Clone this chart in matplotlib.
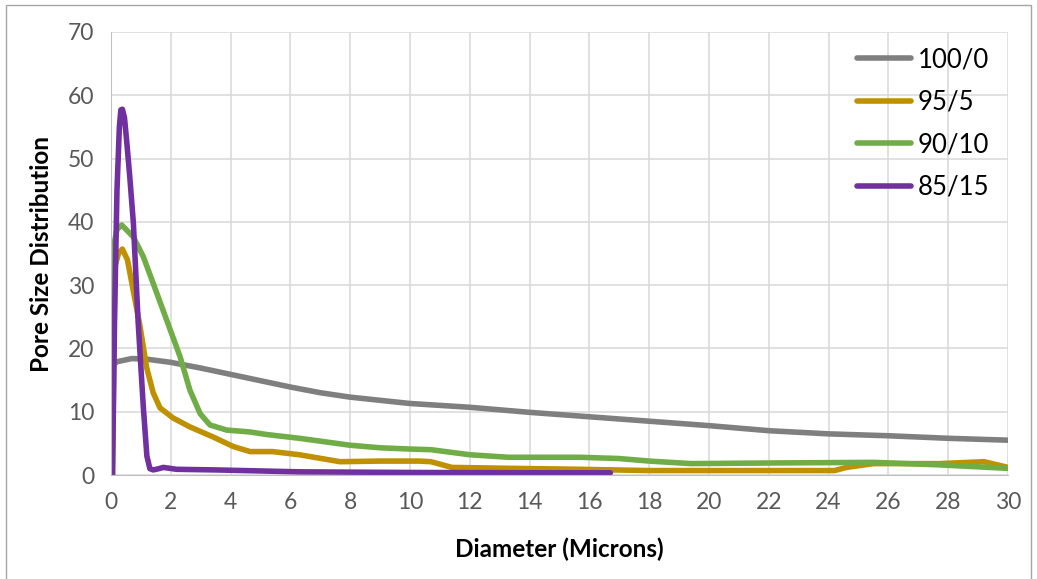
import matplotlib
matplotlib.use("Agg")
import matplotlib.pyplot as plt
from matplotlib.patches import Rectangle

# --- data ---
x_100_0 = [0.05, 0.2, 0.7, 1.2, 2, 3, 4, 5, 6, 7, 8, 9, 10, 12, 14, 16, 18, 20, 22, 24, 26, 28, 30]
y_100_0 = [17.3, 17.9, 18.4, 18.3, 17.8, 16.9, 15.9, 14.9, 13.9, 13.0, 12.3, 11.8, 11.3,
           10.7, 9.9, 9.2, 8.5, 7.8, 7.0, 6.5, 6.2, 5.8, 5.5]

x_95_5 = [0.05, 0.13, 0.25, 0.38, 0.55, 0.75, 0.97, 1.19, 1.41, 1.64, 2.08, 2.64, 3.42, 4.09,
          4.65, 5.4, 6.3, 7.66, 9.0, 10.3, 10.7, 11.4, 13.4, 15.7, 18.0, 24.2, 24.6, 25.5,
          27.7, 29.2, 30]
y_95_5 = [0, 32.9, 35.0, 35.7, 34.0, 29.0, 23.5, 17.0, 13.0, 10.6, 9.0, 7.6, 6.0, 4.5,
          3.7, 3.7, 3.2, 2.1, 2.2, 2.2, 2.1, 1.2, 1.05, 0.9, 0.7, 0.7, 1.2, 1.8,
          1.8, 2.1, 1.2]

x_90_10 = [0.02, 0.08, 0.2, 0.36, 0.75, 1.08, 1.41, 1.86, 2.31, 2.64, 2.98, 3.31, 3.87, 4.65,
           5.2, 6.3, 8.0, 9.0, 10.0, 10.7, 12.0, 13.3, 15.7, 17.0, 18.0, 19.4, 22.1, 25.5,
           27.7, 30]
y_90_10 = [0, 36.0, 38.8, 39.5, 37.6, 34.5, 30.3, 24.5, 18.7, 13.4, 9.7, 7.9, 7.1, 6.8,
           6.4, 5.8, 4.7, 4.3, 4.1, 4.0, 3.2, 2.8, 2.8, 2.6, 2.2, 1.8, 1.9, 2.0,
           1.6, 1.05]

x_85_15 = [0.05, 0.12, 0.2, 0.28, 0.33, 0.38, 0.45, 0.52, 0.63, 0.75, 0.91, 1.08, 1.2, 1.3,
           1.41, 1.6, 1.75, 2.19, 3.53, 6.3, 10, 14, 16.7]
y_85_15 = [0, 25, 45, 55, 57.7, 57.8, 56.5, 53, 47, 39.7, 24, 10.8, 3.0, 1.0,
           0.8, 1.0, 1.2, 0.9, 0.8, 0.5, 0.4, 0.35, 0.35]

labels = ['100/0', '95/5', '90/10', '85/15']
colors = ['#7f7f7f', '#bf9000', '#70ad47', '#7030a0']
x_ticks = list(range(0, 31, 2))
y_ticks = list(range(0, 71, 10))

plt.rcParams['font.family'] = ['Lato', 'DejaVu Sans']

fig = plt.figure(figsize=(10.37, 5.79), dpi=100)
ax = fig.add_axes([111 / 1037, 1 - 475 / 579, (1008 - 111) / 1037, (475 - 32) / 579])

series = [(x_100_0, y_100_0), (x_95_5, y_95_5), (x_90_10, y_90_10), (x_85_15, y_85_15)]
for (xs, ys), lab, col in zip(series, labels, colors):
    ax.plot(xs, ys, color=col, lw=4.0, label=lab,
            solid_joinstyle='round', solid_capstyle='round')

ax.set_xlim(0, 30)
ax.set_ylim(0, 70)
ax.set_xticks(x_ticks)
ax.set_yticks(y_ticks)
ax.grid(True, color='#d9d9d9', lw=1.1)
ax.set_axisbelow(True)
ax.tick_params(length=0, labelsize=16.5, labelcolor='#595959', pad=12)
for side in ['top', 'right']:
    ax.spines[side].set_visible(False)
ax.spines['left'].set_color('#bfbfbf')
ax.spines['bottom'].set_color('#bfbfbf')

ax.set_xlabel('Diameter (Microns)', fontsize=17.5, fontweight='bold', labelpad=18)
ax.set_ylabel('Pore Size Distribution', fontsize=17.5, fontweight='bold', labelpad=11)

leg = ax.legend(loc='upper left', bbox_to_anchor=(834 / 1037, 1 - 24 / 579),
                bbox_transform=fig.transFigure, frameon=False, fontsize=18.5,
                handlelength=2.1, handletextpad=0.25, labelspacing=0.68)

# outer chart border
fig.patches.append(Rectangle((6 / 1037, -0.01), (1031 - 6) / 1037, 1.01 - 5 / 579,
                             transform=fig.transFigure, fill=False,
                             edgecolor='#a6a6a6', lw=1))

fig.savefig('out.png', dpi=100)
